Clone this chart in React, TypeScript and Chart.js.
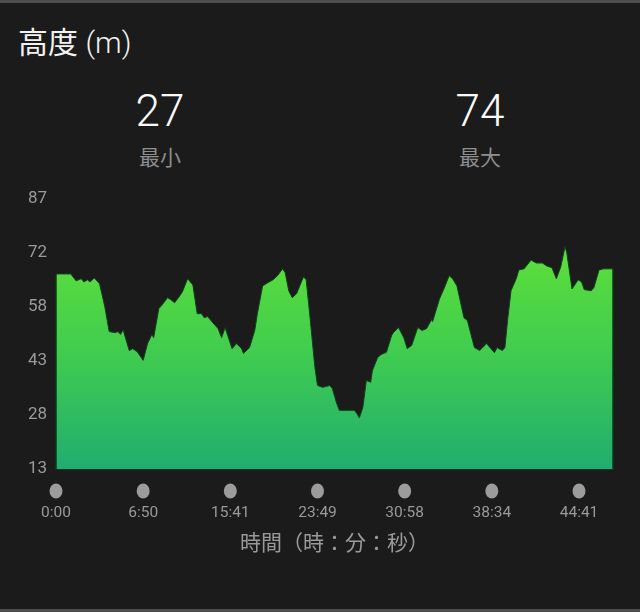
import React, { useEffect, useRef } from "react";
import { Chart, registerables } from "chart.js";

Chart.register(...registerables);

// Distance along the route (axis units: one unit per time label)
const distance = [
  0, 0.17, 0.23, 0.29, 0.32, 0.36, 0.39, 0.44, 0.5, 0.56, 0.61, 0.68, 0.71, 0.74, 0.77, 0.84,
  0.88, 0.93, 1.0, 1.05, 1.1, 1.12, 1.18, 1.21, 1.28, 1.32, 1.36, 1.42, 1.45, 1.51, 1.57, 1.62,
  1.67, 1.7, 1.74, 1.8, 1.86, 1.9, 1.94, 1.97, 2.02, 2.07, 2.13, 2.15, 2.22, 2.28, 2.31, 2.37,
  2.43, 2.49, 2.54, 2.6, 2.63, 2.67, 2.71, 2.76, 2.82, 2.84, 2.87, 2.91, 2.97, 3.0, 3.06, 3.14,
  3.17, 3.22, 3.25, 3.33, 3.42, 3.45, 3.48, 3.52, 3.55, 3.56, 3.61, 3.63, 3.69, 3.73, 3.79, 3.85,
  3.87, 3.93, 3.99, 4.03, 4.08, 4.15, 4.2, 4.25, 4.31, 4.32, 4.4, 4.45, 4.51, 4.55, 4.6, 4.68,
  4.72, 4.8, 4.86, 4.94, 4.99, 5.03, 5.06, 5.12, 5.15, 5.18, 5.22, 5.28, 5.31, 5.37, 5.45, 5.51,
  5.58, 5.63, 5.69, 5.74, 5.79, 5.84, 5.86, 5.92, 5.99, 6.03, 6.06, 6.14, 6.17, 6.23, 6.28, 6.39,
];

// Elevation (m)
const elevation = [
  66.5, 66.5, 64.6, 65.2, 64.3, 64.9, 64.3, 65.4, 63.8, 57.5, 50.7, 50.4, 50.7, 49.9, 51.2, 45.5,
  46.0, 45.2, 42.8, 47.4, 49.9, 49.0, 57.0, 57.8, 60.0, 59.4, 58.6, 60.5, 61.6, 65.2, 63.5, 55.6,
  55.6, 54.5, 54.8, 53.1, 51.5, 49.0, 51.8, 49.6, 46.0, 47.4, 46.0, 44.7, 46.3, 51.0, 55.6, 63.2,
  64.1, 64.9, 66.0, 67.9, 66.8, 61.9, 60.0, 61.1, 64.6, 65.7, 64.9, 55.6, 40.9, 35.9, 35.4, 35.9,
  35.1, 31.0, 29.1, 29.1, 29.1, 28.3, 27.0, 29.9, 35.4, 37.3, 36.8, 40.0, 43.6, 44.4, 45.0, 49.6,
  50.4, 51.8, 49.0, 46.0, 46.9, 51.8, 51.0, 51.5, 54.0, 53.4, 59.7, 62.4, 66.0, 65.2, 63.2, 54.5,
  53.7, 46.3, 45.5, 47.4, 46.0, 44.9, 46.3, 45.5, 46.3, 53.7, 61.9, 65.2, 67.6, 67.9, 70.3, 69.5,
  69.5, 68.7, 68.2, 65.2, 68.4, 74.0, 72.3, 62.4, 64.9, 64.3, 62.2, 61.9, 62.7, 67.6, 67.9, 67.9,
];

const xTickPositions = [0, 1, 2, 3, 4, 5, 6];
const timeLabels = ["0:00", "6:50", "15:41", "23:49", "30:58", "38:34", "44:41"];
const yTickValues = [13, 27.8, 42.6, 57.4, 72.2, 87];
const yTickLabels = ["13", "28", "43", "58", "72", "87"];
const minElevation = 27;
const maxElevation = 74;

const FONT = "Roboto, 'Noto Sans CJK JP', sans-serif";
const GRAY = "#9a9a9a";

const dotsPlugin = {
  id: "tickDots",
  afterDraw(chart: any) {
    const { ctx, chartArea, scales } = chart;
    const xs = scales.x;
    ctx.save();
    ctx.fillStyle = "#9c9c9c";
    xs.ticks.forEach((t: any) => {
      const px = xs.getPixelForValue(t.value);
      ctx.beginPath();
      ctx.ellipse(px, chartArea.bottom + 22, 6.5, 7.5, 0, 0, Math.PI * 2);
      ctx.fill();
    });
    // side edges of the filled area
    const meta = chart.getDatasetMeta(0);
    const first = meta.data[0];
    const last = meta.data[meta.data.length - 1];
    ctx.strokeStyle = "#0d3a1a";
    ctx.lineWidth = 1.5;
    ctx.beginPath();
    ctx.moveTo(first.x, first.y);
    ctx.lineTo(first.x, chartArea.bottom);
    ctx.moveTo(last.x, last.y);
    ctx.lineTo(last.x, chartArea.bottom);
    ctx.stroke();
    ctx.restore();
  },
};

export default function App() {
  const ref = useRef<HTMLCanvasElement>(null);

  useEffect(() => {
    document.body.style.margin = "0";
    const canvas = ref.current!;
    const chart = new Chart(canvas, {
      type: "line",
      data: {
        datasets: [
          {
            data: distance.map((d, i) => ({ x: d, y: elevation[i] })),
            fill: "start",
            borderWidth: 1,
            borderColor: "#123f1f",
            pointRadius: 0,
            tension: 0,
            backgroundColor: (c: any) => {
              const ch = c.chart;
              const area = ch.chartArea;
              if (!area) return "#40c850";
              const top = ch.scales.y.getPixelForValue(maxElevation);
              const g = ch.ctx.createLinearGradient(0, top, 0, area.bottom);
              g.addColorStop(0, "#5ddf3a");
              g.addColorStop(0.5, "#3fcb50");
              g.addColorStop(1, "#20ad70");
              return g;
            },
          },
        ],
      },
      options: {
        animation: false,
        responsive: false,
        maintainAspectRatio: false,
        layout: { padding: { top: 18, right: 27, left: 0, bottom: 0 } },
        plugins: { legend: { display: false }, tooltip: { enabled: false } },
        scales: {
          x: {
            type: "linear",
            min: 0,
            max: distance[distance.length - 1],
            afterBuildTicks: (s: any) => {
              s.ticks = xTickPositions.map((v) => ({ value: v }));
            },
            afterFit: (s: any) => {
              s.height = 88;
            },
            grid: { display: false, drawTicks: false },
            border: { display: true, color: "#0d3a1a", width: 2 },
            ticks: {
              padding: 35,
              color: GRAY,
              font: { size: 15.5, family: FONT },
              maxRotation: 0,
              autoSkip: false,
              callback: (_v: any, i: number) => timeLabels[i],
            },
            title: {
              display: true,
              text: "時間（時：分：秒）",
              color: GRAY,
              font: { size: 21, family: FONT },
              padding: { top: 0, bottom: 0 },
            },
          },
          y: {
            min: 13,
            max: 87,
            afterBuildTicks: (s: any) => {
              s.ticks = yTickValues.map((v) => ({ value: v }));
            },
            afterFit: (s: any) => {
              s.width = 56;
            },
            grid: { display: false, drawTicks: false },
            border: { display: false },
            ticks: {
              padding: 9,
              color: GRAY,
              font: { size: 17, family: FONT },
              autoSkip: false,
              callback: (_v: any, i: number) => yTickLabels[i],
            },
          },
        },
      } as any,
      plugins: [dotsPlugin],
    });
    return () => chart.destroy();
  }, []);

  return (
    <div
      style={{
        position: "relative",
        width: 640,
        height: 612,
        background: "#1b1b1b",
        overflow: "hidden",
        fontFamily: FONT,
      }}
    >
      <div style={{ position: "absolute", left: 0, top: 0, width: 640, height: 3, background: "#4e4e4e" }} />
      <div style={{ position: "absolute", left: 0, top: 609, width: 640, height: 3, background: "#4e4e4e" }} />
      <div
        style={{
          position: "absolute",
          left: 18,
          top: 25,
          fontSize: 30,
          lineHeight: "36px",
          color: "#f2f2f2",
          whiteSpace: "nowrap",
        }}
      >
        高度 <span style={{ fontWeight: 300 }}>(m)</span>
      </div>
      <div style={{ position: "absolute", left: 60, top: 86, width: 200, textAlign: "center", fontSize: 44, fontWeight: 300, lineHeight: "50px", color: "#fafafa" }}>
        {minElevation}
      </div>
      <div style={{ position: "absolute", left: 60, top: 144, width: 200, textAlign: "center", fontSize: 21, lineHeight: "28px", color: "#8e8e8e" }}>
        最小
      </div>
      <div style={{ position: "absolute", left: 380, top: 86, width: 200, textAlign: "center", fontSize: 44, fontWeight: 300, lineHeight: "50px", color: "#fafafa" }}>
        {maxElevation}
      </div>
      <div style={{ position: "absolute", left: 380, top: 144, width: 200, textAlign: "center", fontSize: 21, lineHeight: "28px", color: "#8e8e8e" }}>
        最大
      </div>
      <canvas ref={ref} width={640} height={377} style={{ position: "absolute", left: 0, top: 180, width: 640, height: 377 }} />
    </div>
  );
}
